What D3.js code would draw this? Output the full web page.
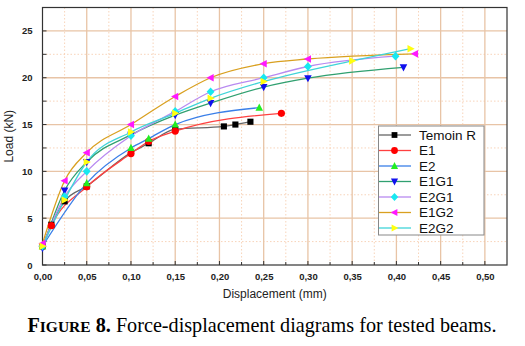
<!DOCTYPE html>
<html><head><meta charset="utf-8">
<script src="https://cdn.jsdelivr.net/npm/d3@7"></script>
<style>body{margin:0;background:#fff}svg{display:block}</style>
</head><body>
<script>
const xTicks = [0,0.05,0.10,0.15,0.20,0.25,0.30,0.35,0.40,0.45,0.50];
const yTicks = [0,5,10,15,20,25];
const seriesNames = ["Temoin R","E1","E2","E1G1","E2G1","E1G2","E2G2"];
const temoinR = [[0,2.0],[0.01,4.3],[0.025,6.8],[0.05,8.4],[0.10,12.0],[0.12,13.0],[0.15,14.5],[0.205,14.8],[0.218,15.0],[0.235,15.3]];
const e1 = [[0,2.0],[0.01,4.2],[0.05,8.35],[0.10,11.9],[0.12,13.2],[0.15,14.3],[0.27,16.2]];
const e2 = [[0,2.0],[0.05,8.75],[0.10,12.5],[0.12,13.5],[0.15,15.0],[0.245,16.8]];
const e1g1 = [[0,1.8],[0.025,7.95],[0.05,11.0],[0.10,13.9],[0.15,16.0],[0.19,17.3],[0.25,19.0],[0.30,19.95],[0.408,21.1]];
const e2g1 = [[0,2.0],[0.025,7.3],[0.05,10.0],[0.10,13.8],[0.15,16.4],[0.19,18.5],[0.25,20.0],[0.30,21.2],[0.399,22.3]];
const e1g2 = [[0,2.3],[0.025,9.0],[0.05,12.0],[0.10,15.0],[0.15,18.0],[0.19,20.0],[0.25,21.5],[0.30,22.0],[0.421,22.55]];
const e2g2 = [[0,2.0],[0.025,6.95],[0.05,11.0],[0.10,14.2],[0.15,16.2],[0.19,17.8],[0.25,19.6],[0.35,21.8],[0.416,23.1]];
const seriesData = [temoinR,e1,e2,e1g1,e2g1,e1g2,e2g2];
const lineColors = ["#666666","#ff4040","#3a7fe8","#30a070","#b88af0","#d9a020","#40d4d8"];
const markerColors = ["#000000","#ff0000","#22ee22","#1010ee","#18e8f0","#ff18ff","#ffff10"];
const markerShapes = ["square","circle","up","down","diamond","left","right"];

const W=525,H=346;
const m={l:42.5,r:18,t:7.5,b:81};
const svg=d3.select("body").append("svg").attr("width",W).attr("height",H);
const x=d3.scaleLinear().domain([0,0.525]).range([m.l,W-m.r]);
const y=d3.scaleLinear().domain([0,27.5]).range([H-m.b,m.t]);
const pw=W-m.r-m.l, ph=H-m.b-m.t;

// minor grid
const minorX=d3.range(0.025,0.525,0.05), minorY=d3.range(2.5,27.5,5);
svg.append("g").selectAll("line").data(minorX).join("line")
 .attr("x1",d=>x(d)).attr("x2",d=>x(d)).attr("y1",m.t).attr("y2",H-m.b)
 .attr("stroke","#f6c9a8").attr("stroke-width",0.8).attr("stroke-dasharray","1.5,2");
svg.append("g").selectAll("line").data(minorY).join("line")
 .attr("y1",d=>y(d)).attr("y2",d=>y(d)).attr("x1",m.l).attr("x2",W-m.r)
 .attr("stroke","#f6c9a8").attr("stroke-width",0.8).attr("stroke-dasharray","1.5,2");
// major grid
svg.append("g").selectAll("line").data(xTicks.slice(1)).join("line")
 .attr("x1",d=>x(d)).attr("x2",d=>x(d)).attr("y1",m.t).attr("y2",H-m.b)
 .attr("stroke","#e8c4a6").attr("stroke-width",1.3);
svg.append("g").selectAll("line").data(yTicks.slice(1)).join("line")
 .attr("y1",d=>y(d)).attr("y2",d=>y(d)).attr("x1",m.l).attr("x2",W-m.r)
 .attr("stroke","#e8c4a6").attr("stroke-width",1.3);

// axes
const fmt=d=>d3.format(".2f")(d).replace(".",",");
const xa=svg.append("g").attr("transform",`translate(0,${H-m.b})`)
 .call(d3.axisBottom(x).tickValues(xTicks).tickFormat(fmt).tickSize(0).tickPadding(8));
xa.select(".domain").remove();
xa.selectAll("text").attr("font-family","Arial, Liberation Sans, sans-serif").attr("font-weight","bold").attr("font-size","9.5px").attr("fill","#222");
const ya=svg.append("g").attr("transform",`translate(${m.l},0)`)
 .call(d3.axisLeft(y).tickValues(yTicks).tickFormat(d3.format("d")).tickSize(0).tickPadding(10));
ya.select(".domain").remove();
ya.selectAll("text").attr("font-family","Arial, Liberation Sans, sans-serif").attr("font-weight","bold").attr("font-size","9.5px").attr("fill","#222");
// inward ticks
const allX=d3.range(0,0.525,0.025);
svg.append("g").selectAll("line").data(allX).join("line")
 .attr("x1",d=>x(d)).attr("x2",d=>x(d)).attr("y1",H-m.b).attr("y2",d=>H-m.b-(Math.round(d*40)%2===0?4:3))
 .attr("stroke","#333");
const allY=d3.range(0,27.5,2.5);
svg.append("g").selectAll("line").data(allY).join("line")
 .attr("y1",d=>y(d)).attr("y2",d=>y(d)).attr("x1",m.l).attr("x2",d=>m.l+(Math.round(d*2)%5===0?4:3))
 .attr("stroke","#333");
svg.append("rect").attr("x",m.l).attr("y",m.t).attr("width",pw).attr("height",ph)
 .attr("fill","none").attr("stroke","#333").attr("stroke-width",1.2);

// lines
const line=d3.line().x(d=>x(d[0])).y(d=>y(d[1])).curve(d3.curveMonotoneX);
seriesData.forEach((s,i)=>{
  svg.append("path").datum(s).attr("d",line).attr("fill","none")
   .attr("stroke",lineColors[i]).attr("stroke-width",1.3);
});
function marker(g,shape,cx,cy,col,r){
  const p=(pts)=>g.append("polygon").attr("points",pts.map(q=>[cx+q[0]*r,cy+q[1]*r].join(",")).join(" ")).attr("fill",col);
  if(shape==="square") g.append("rect").attr("x",cx-r*0.85).attr("y",cy-r*0.85).attr("width",r*1.7).attr("height",r*1.7).attr("fill",col);
  else if(shape==="circle") g.append("circle").attr("cx",cx).attr("cy",cy).attr("r",r).attr("fill",col);
  else if(shape==="up") p([[0,-1.15],[1.05,0.85],[-1.05,0.85]]);
  else if(shape==="down") p([[0,1.15],[1.05,-0.85],[-1.05,-0.85]]);
  else if(shape==="left") p([[-1.15,0],[0.85,-1.05],[0.85,1.05]]);
  else if(shape==="right") p([[1.15,0],[-0.85,-1.05],[-0.85,1.05]]);
  else if(shape==="diamond") p([[0,-1.2],[1.1,0],[0,1.2],[-1.1,0]]);
}
seriesData.forEach((s,i)=>{
  const g=svg.append("g");
  s.forEach(d=>marker(g,markerShapes[i],x(d[0]),y(d[1]),markerColors[i],3.6));
});

// legend
const lg=svg.append("g");
lg.append("rect").attr("x",378.5).attr("y",126).attr("width",105.5).attr("height",109)
 .attr("fill","#fff").attr("stroke","#888").attr("stroke-width",1);
seriesNames.forEach((n,i)=>{
  const yy=135+i*15.5;
  lg.append("line").attr("x1",379).attr("x2",411).attr("y1",yy).attr("y2",yy).attr("stroke",lineColors[i]).attr("stroke-width",1.3);
  marker(lg,markerShapes[i],394.5,yy,markerColors[i],3.4);
  lg.append("text").attr("x",419).attr("y",yy+4.8).text(n)
   .attr("font-family","Arial, Liberation Sans, sans-serif").attr("font-size","13.5px").attr("fill","#111");
});

// axis titles
svg.append("text").attr("x",(m.l+W-m.r)/2).attr("y",298).attr("text-anchor","middle")
 .attr("font-family","Arial, Liberation Sans, sans-serif").attr("font-size","12px").attr("fill","#222").text("Displacement (mm)");
svg.append("text").attr("transform",`translate(13,${(m.t+H-m.b)/2}) rotate(-90)`).attr("text-anchor","middle")
 .attr("font-family","Arial, Liberation Sans, sans-serif").attr("font-size","12px").attr("fill","#222").text("Load (kN)");

// caption
const cap=svg.append("text").attr("x",262).attr("y",332).attr("text-anchor","middle")
 .attr("font-family","Liberation Serif, Times New Roman, serif").attr("font-size","20.2px").attr("fill","#000");
cap.append("tspan").attr("font-weight","bold").text("F");
cap.append("tspan").attr("font-weight","bold").attr("font-size","15.5px").text("IGURE");
cap.append("tspan").attr("font-weight","bold").text(" 8.");
cap.append("tspan").text(" Force-displacement diagrams for tested beams.");
</script>
</body></html>
